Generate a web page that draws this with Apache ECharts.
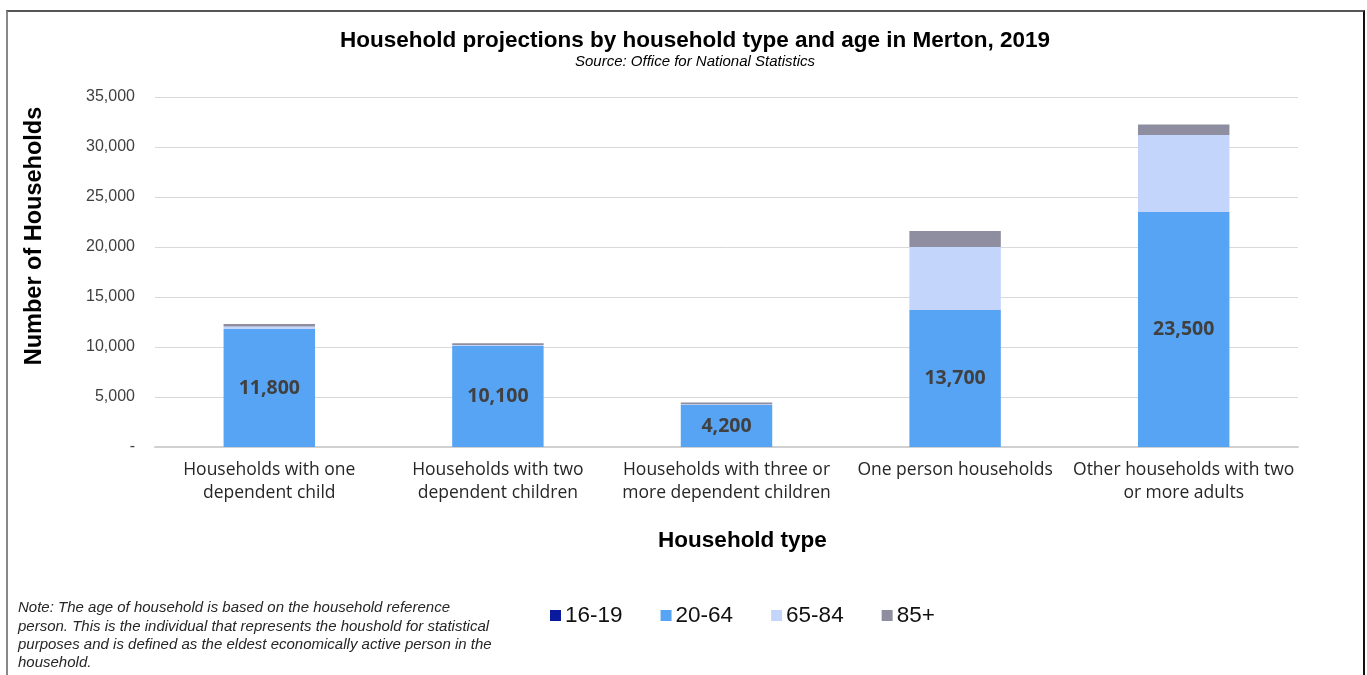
<!DOCTYPE html>
<html>
<head>
<meta charset="utf-8">
<script src="https://cdn.jsdelivr.net/npm/echarts@6/dist/echarts.min.js"></script>
<style>
html,body{margin:0;padding:0;background:#fff;}
#frame{position:absolute;left:6px;top:10px;width:1355px;height:700px;border-top:2px solid #555;border-left:2px solid #888;border-right:2px solid #111;}
#chart{position:absolute;left:0;top:0;width:1367px;height:675px;}
</style>
</head>
<body>
<div id="frame"></div>
<div id="chart"></div>
<script>
var categories = [
  "Households with one\ndependent child",
  "Households with two\ndependent children",
  "Households with three or\nmore dependent children",
  "One person households",
  "Other households with two\nor more adults"
];
var seriesNames = ["16-19", "20-64", "65-84", "85+"];
var age16to19 = [0, 0, 0, 0, 0];
var age20to64 = [11800, 10100, 4200, 13700, 23500];
var age65to84 = [250, 100, 80, 6300, 7700];
var age85plus = [250, 170, 170, 1600, 1050];
var yTicks = [0, 5000, 10000, 15000, 20000, 25000, 30000, 35000];
var colors = ["#0a1a9e", "#58a4f4", "#c3d5fb", "#8e8ea0"];

var chart = echarts.init(document.getElementById('chart'));
function fmt(v){ return v === 0 ? '-' : v.toLocaleString('en-US'); }
var dataSets = [age16to19, age20to64, age65to84, age85plus];
var series = seriesNames.map(function(n, i){
  return {
    name: n, type: 'bar', stack: 'total', barWidth: '40%',
    data: dataSets[i],
    itemStyle: {color: colors[i]},
    label: i === 1 ? {
      show: true, position: 'inside',
      formatter: function(p){ return p.value.toLocaleString('en-US'); },
      fontFamily: 'Open Sans', fontWeight: 'bold', fontSize: 19.5, color: '#404040'
    } : {show: false}
  };
});
chart.setOption({
  animation: false,
  title: {
    text: 'Household projections by household type and age in Merton, 2019',
    subtext: 'Source: Office for National Statistics',
    left: 690, textAlign: 'center', top: 24, itemGap: 2,
    textStyle: {fontFamily: 'Liberation Sans', fontWeight: 'bold', fontSize: 22.5, color: '#000'},
    subtextStyle: {fontFamily: 'Liberation Sans', fontStyle: 'italic', fontSize: 15, color: '#000'}
  },
  legend: {
    data: seriesNames, left: 545, top: 599, itemWidth: 11, itemHeight: 11, itemGap: 38,
    icon: 'rect',
    textStyle: {fontFamily: 'Liberation Sans', fontSize: 22.5, color: '#111', padding: [0,0,0,-1]}
  },
  grid: {left: 155, right: 69, top: 97, bottom: 228, containLabel: false},
  xAxis: {
    type: 'category', data: categories,
    name: 'Household type', nameLocation: 'middle', nameGap: 82,
    nameTextStyle: {fontFamily: 'Liberation Sans', fontWeight: 'bold', fontSize: 22.5, color: '#000', padding: [0,0,0,32]},
    axisLine: {lineStyle: {color: '#d0d0d0', width: 2}},
    axisTick: {show: false},
    axisLabel: {fontFamily: 'Open Sans', fontSize: 17.5, color: '#262626', lineHeight: 23, margin: 12, interval: 0}
  },
  yAxis: {
    type: 'value', min: 0, max: 35000, interval: 5000,
    axisLine: {show: false}, axisTick: {show: false},
    splitLine: {lineStyle: {color: '#d9d9d9', width: 1}},
    axisLabel: {fontFamily: 'Liberation Sans', fontSize: 16, color: '#404040', margin: 20,
      formatter: function(v){ return yTicks.indexOf(v) >= 0 ? fmt(v) : ''; }}
  },
  graphic: [{
    type: 'text', x: 35, y: 236, rotation: Math.PI / 2,
    style: {
      text: 'Number of Households', align: 'center', verticalAlign: 'middle',
      fontFamily: 'Liberation Sans', fontWeight: 'bold', fontSize: 23.5, fill: '#000'
    }
  }, {
    type: 'text', left: 18, top: 599,
    style: {
      text: 'Note: The age of household is based on the household reference\nperson. This is the individual that represents the houshold for statistical\npurposes and is defined as the eldest economically active person in the\nhousehold.',
      fontFamily: 'Liberation Sans', fontStyle: 'italic', fontSize: 15, lineHeight: 18.3, fill: '#262626'
    }
  }],
  series: series
});
</script>
</body>
</html>
